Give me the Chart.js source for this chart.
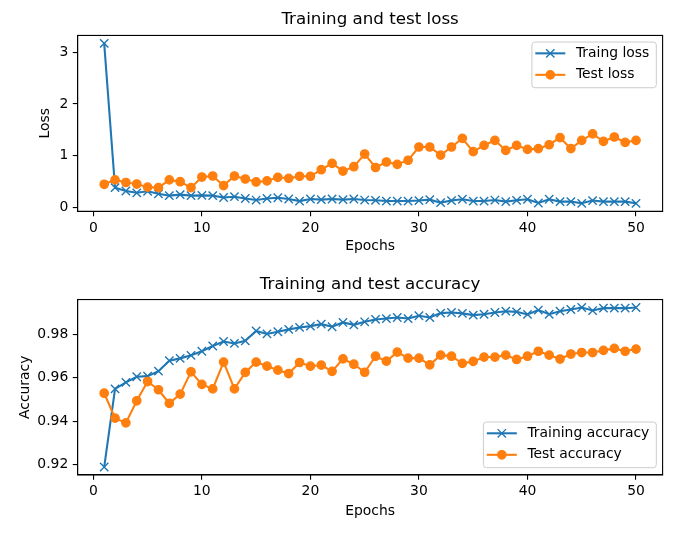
<!DOCTYPE html>
<html>
<head>
<meta charset="utf-8">
<script src="https://cdn.jsdelivr.net/npm/chart.js@4.4.1/dist/chart.umd.min.js"></script>
<style>
  html, body { margin: 0; padding: 0; background: #ffffff; }
  #wrap { position: relative; width: 698px; height: 534px; overflow: hidden; }
  canvas { position: absolute; left: 0; }
  #c1 { top: 0; }
  #c2 { top: 267px; }
</style>
</head>
<body>
<div id="wrap">
  <canvas id="c1" width="698" height="267"></canvas>
  <canvas id="c2" width="698" height="267"></canvas>
</div>
<script>
// ---------------- data ----------------
const epochs = [1,2,3,4,5,6,7,8,9,10,11,12,13,14,15,16,17,18,19,20,21,22,23,24,25,26,27,28,29,30,31,32,33,34,35,36,37,38,39,40,41,42,43,44,45,46,47,48,49,50];

const trainLoss = [3.17,0.38,0.315,0.28,0.31,0.26,0.225,0.245,0.225,0.23,
                   0.225,0.19,0.205,0.17,0.14,0.17,0.185,0.16,0.12,0.16,
                   0.148,0.16,0.148,0.16,0.14,0.135,0.12,0.12,0.12,0.13,
                   0.148,0.09,0.13,0.155,0.12,0.12,0.14,0.11,0.135,0.155,
                   0.083,0.155,0.11,0.11,0.077,0.13,0.11,0.11,0.11,0.077];

const testLoss = [0.445,0.53,0.48,0.45,0.39,0.38,0.53,0.495,0.38,0.585,
                  0.605,0.42,0.605,0.547,0.49,0.51,0.58,0.56,0.60,0.60,
                  0.727,0.85,0.70,0.785,1.03,0.77,0.876,0.83,0.91,1.166,
                  1.166,1.01,1.166,1.334,1.076,1.198,1.295,1.10,1.198,1.12,
                  1.135,1.21,1.347,1.135,1.295,1.42,1.275,1.36,1.255,1.295];

const trainAcc = [0.9188,0.9549,0.9579,0.9605,0.9608,0.9631,0.9679,0.969,0.9704,0.9723,
                  0.9747,0.9768,0.9759,0.9771,0.9817,0.9803,0.9813,0.9824,0.9833,0.9839,
                  0.9848,0.9836,0.9856,0.9845,0.9859,0.987,0.9874,0.9879,0.9874,0.9887,
                  0.9879,0.9899,0.9902,0.9898,0.989,0.9894,0.9902,0.9908,0.9905,0.9893,
                  0.9913,0.9894,0.9908,0.9916,0.9925,0.9911,0.9922,0.9922,0.9922,0.9925];

const testAcc = [0.9529,0.9414,0.9392,0.9494,0.9583,0.9545,0.9482,0.9525,0.9628,0.957,
                 0.9549,0.9673,0.9549,0.9625,0.9673,0.9654,0.9636,0.962,0.9671,0.9654,
                 0.9659,0.963,0.9688,0.9663,0.9626,0.97,0.9677,0.9719,0.9691,0.9691,
                 0.966,0.9705,0.97,0.9667,0.9676,0.9696,0.9696,0.9705,0.9685,0.97,
                 0.9723,0.9705,0.9687,0.971,0.9717,0.9717,0.9727,0.9736,0.9723,0.9733];

const xTicks = [0,10,20,30,40,50];
const lossTicks = [0,1,2,3];
const accTicks = [0.92,0.94,0.96,0.98];

const lossLabels = ['Traing loss','Test loss'];
const accLabels = ['Training accuracy','Test accuracy'];
const titles = ['Training and test loss','Training and test accuracy'];
const xTitle = 'Epochs';
const yTitles = ['Loss','Accuracy'];

// ---------------- styling ----------------
const C0 = '#1f77b4', C1 = '#ff7f0e';
const FONT = 'DejaVu Sans';
const FS = 13.9;
Chart.defaults.font.family = FONT;
Chart.defaults.color = '#000';

function mplRange(arrs) {
  const all = [].concat(...arrs);
  const lo = Math.min(...all), hi = Math.max(...all);
  const m = (hi - lo) * 0.05;
  return [lo - m, hi + m];
}

function pts(ys) { return epochs.map((e, i) => ({x: e, y: ys[i]})); }

function series(label, ys, color, style, order) {
  const isX = style === 'crossRot';
  return {
    label, data: pts(ys), order,
    borderColor: color, backgroundColor: color,
    borderWidth: 2.08, tension: 0, fill: false,
    pointStyle: style,
    pointRadius: isX ? 5.9 : 4.2,
    pointBorderWidth: isX ? 1.4 : 1.3,
    pointBackgroundColor: color, pointBorderColor: color,
    pointHoverRadius: isX ? 5.9 : 4.2
  };
}

const framePlugin = {
  id: 'mplFrame',
  afterDraw(chart, args, opts) {
    const {ctx, chartArea: ca} = chart;
    ctx.save();
    // spines
    ctx.strokeStyle = '#000';
    ctx.lineWidth = 1.1;
    ctx.strokeRect(ca.left, ca.top, ca.right - ca.left, ca.bottom - ca.top);
    // legend
    ctx.font = FS + 'px "' + FONT + '"';
    const ds = chart.data.datasets;
    const tw = Math.max(...ds.map(d => ctx.measureText(d.label).width));
    const w = 3.4 + 30 + 10.6 + tw + 7;
    const h = 45.7;
    const x = ca.right - 6.3 - w;
    const y = opts.loc === 'upper right' ? ca.top + 6.6 : ca.bottom - 7.3 - h;
    ctx.beginPath();
    if (ctx.roundRect) ctx.roundRect(x, y, w, h, 3); else ctx.rect(x, y, w, h);
    ctx.fillStyle = 'rgba(255,255,255,0.8)';
    ctx.fill();
    ctx.strokeStyle = '#cccccc';
    ctx.lineWidth = 1;
    ctx.stroke();
    ds.forEach((d, i) => {
      const cy = y + 11.3 + i * 21.5;
      const hx = x + 3.4;
      ctx.strokeStyle = d.borderColor;
      ctx.fillStyle = d.borderColor;
      ctx.lineWidth = d.borderWidth;
      ctx.beginPath();
      ctx.moveTo(hx, cy);
      ctx.lineTo(hx + 30, cy);
      ctx.stroke();
      ctx.lineWidth = d.pointBorderWidth;
      Chart.helpers.drawPoint(ctx, {pointStyle: d.pointStyle, radius: d.pointRadius, borderWidth: d.pointBorderWidth, rotation: 0}, hx + 15, cy);
      ctx.fillStyle = '#000';
      ctx.textAlign = 'left';
      ctx.textBaseline = 'middle';
      ctx.fillText(d.label, hx + 40.6, cy);
    });
    ctx.restore();
  }
};

function makeChart(id, o) {
  const [ymin, ymax] = mplRange(o.ys);
  const [xmin, xmax] = mplRange([epochs]);
  return new Chart(document.getElementById(id), {
    type: 'line',
    data: { datasets: o.datasets },
    plugins: [framePlugin],
    options: {
      responsive: false, animation: false, devicePixelRatio: 1, events: [],
      layout: { padding: { left: o.padLeft, right: 35.4, top: 0, bottom: o.padBottom } },
      plugins: {
        legend: { display: false },
        tooltip: { enabled: false },
        title: {
          display: true, text: o.title, color: '#000', fullSize: false,
          font: { family: FONT, size: 16.7, weight: 'normal', lineHeight: 1.2 },
          padding: { top: o.titleTop, bottom: o.titleBottom }
        },
        mplFrame: { loc: o.loc }
      },
      scales: {
        x: {
          type: 'linear', min: xmin, max: xmax,
          afterBuildTicks(s) { s.ticks = xTicks.map(v => ({value: v})); },
          afterFit(s) { s.height = o.xH; },
          ticks: { font: { family: FONT, size: FS }, color: '#000', padding: 3.6, maxRotation: 0, autoSkip: false },
          grid: { drawOnChartArea: false, drawTicks: true, tickLength: 4.86, color: '#000', lineWidth: 1.1 },
          border: { display: true, color: '#000', width: 1.1 },
          title: { display: true, text: xTitle, color: '#000', font: { family: FONT, size: FS }, padding: 0 }
        },
        y: {
          type: 'linear', min: ymin, max: ymax,
          afterBuildTicks(s) { s.ticks = o.yTicks.map(v => ({value: v})); },
          afterFit(s) { s.width = o.yW; },
          ticks: { font: { family: FONT, size: FS }, color: '#000', padding: 4.5, autoSkip: false,
                   callback: v => o.fmt(v) },
          grid: { drawOnChartArea: false, drawTicks: true, tickLength: 4.86, color: '#000', lineWidth: 1.1 },
          border: { display: true, color: '#000', width: 1.1 },
          title: { display: true, text: o.yTitle, color: '#000', font: { family: FONT, size: FS }, padding: 0 }
        }
      }
    }
  });
}

makeChart('c1', {
  title: titles[0], yTitle: yTitles[0], yTicks: lossTicks, fmt: v => String(Math.round(v)),
  ys: [trainLoss, testLoss], loc: 'upper right',
  padLeft: 36.7, yW: 40.9, titleTop: 10, titleBottom: 5.4, xH: 43.7, padBottom: 12,
  datasets: [
    series(lossLabels[0], trainLoss, C0, 'crossRot', 1),
    series(lossLabels[1], testLoss, C1, 'circle', 0)
  ]
});

makeChart('c2', {
  title: titles[1], yTitle: yTitles[1], yTicks: accTicks, fmt: v => v.toFixed(2),
  ys: [trainAcc, testAcc], loc: 'lower right',
  padLeft: 16.7, yW: 60.9, titleTop: 8, titleBottom: 4.5, xH: 44.3, padBottom: 14.7,
  datasets: [
    series(accLabels[0], trainAcc, C0, 'crossRot', 1),
    series(accLabels[1], testAcc, C1, 'circle', 0)
  ]
});
</script>
</body>
</html>
